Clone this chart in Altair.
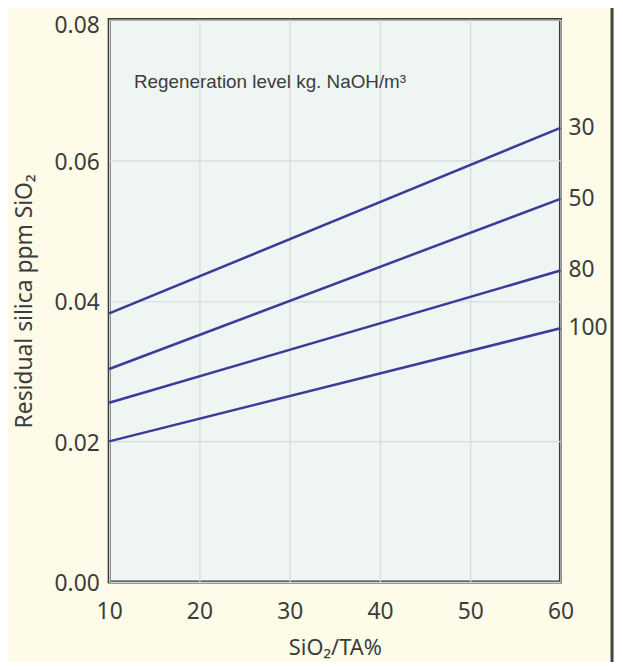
import altair as alt
import pandas as pd

levels = ["30", "50", "80", "100"]
x_start = [10, 10, 10, 10]
x_end = [60, 60, 60, 60]
y_start = [0.0382, 0.0303, 0.0255, 0.0200]
y_end = [0.0646, 0.0545, 0.0443, 0.0361]
x_ticks = [10, 20, 30, 40, 50, 60]
y_ticks = [0.0, 0.02, 0.04, 0.06, 0.08]
note_text = "Regeneration level kg. NaOH/m³"

rows = []
for lv, xs, xe, ys, ye in zip(levels, x_start, x_end, y_start, y_end):
    rows.append({"level": lv, "x": xs, "y": ys})
    rows.append({"level": lv, "x": xe, "y": ye})
df = pd.DataFrame(rows)
lab = pd.DataFrame({"level": levels, "x": x_end, "y": y_end})
note = pd.DataFrame({"x": [12.75], "y": [0.0711], "t": [note_text]})

FONT = "Noto Sans"
TXT = "#3c3c3c"
LINE = "#3b3b99"

xs = alt.Scale(domain=[10, 60], nice=False)
ys = alt.Scale(domain=[0, 0.08], nice=False)

xax = alt.Axis(values=x_ticks, title="SiO₂/TA%", ticks=False, domain=False,
               labelFontSize=23, labelPadding=19, labelFlush=False,
               titleFontSize=22, titleBaseline="alphabetic", titleY=73,
               grid=True)
yax = alt.Axis(values=y_ticks, format=".2f", title="Residual silica ppm SiO₂",
               ticks=False, domain=False, labelFontSize=23, labelPadding=10,
               labelFlush=False,
               labelOffset={"condition": {"test": "datum.value >= 0.08", "value": 6},
                            "value": 2},
               titleFontSize=23, titleX=-73, grid=True)

lines = alt.Chart(df).mark_line(color=LINE, strokeWidth=2.5).encode(
    x=alt.X("x:Q", scale=xs, axis=xax),
    y=alt.Y("y:Q", scale=ys, axis=yax),
    detail="level:N",
)

labels = alt.Chart(lab).mark_text(align="left", baseline="middle", dx=8,
                                  fontSize=23, color=TXT, font=FONT).encode(
    x=alt.X("x:Q", scale=xs), y=alt.Y("y:Q", scale=ys), text="level:N")

note_m = alt.Chart(note).mark_text(align="left", baseline="middle", fontSize=19,
                                   color=TXT, font="Liberation Sans").encode(
    x=alt.X("x:Q", scale=xs), y=alt.Y("y:Q", scale=ys), text="t:N")

border = alt.Chart(pd.DataFrame({"a": [0]})).mark_rule(color="#444444", strokeWidth=3).encode(
    x=alt.value(507), y=alt.value(-12), y2=alt.value(660))

chart = alt.layer(lines, labels, note_m, border).properties(
    width=455, height=567,
    autosize=alt.AutoSizeParams(type="none"),
    padding={"left": 102, "top": 9, "right": 55, "bottom": 78},
    background="#fefce9",
).configure_view(
    fill="#eef5f3", stroke="#3a3a3a", strokeWidth=3
).configure_axis(
    gridColor="#d6dada", gridWidth=1.2, labelColor=TXT, titleColor=TXT,
    labelFont=FONT, titleFont=FONT, titleFontWeight="normal"
)

chart.save("out.html", embed_options={"renderer": "svg", "actions": False})
